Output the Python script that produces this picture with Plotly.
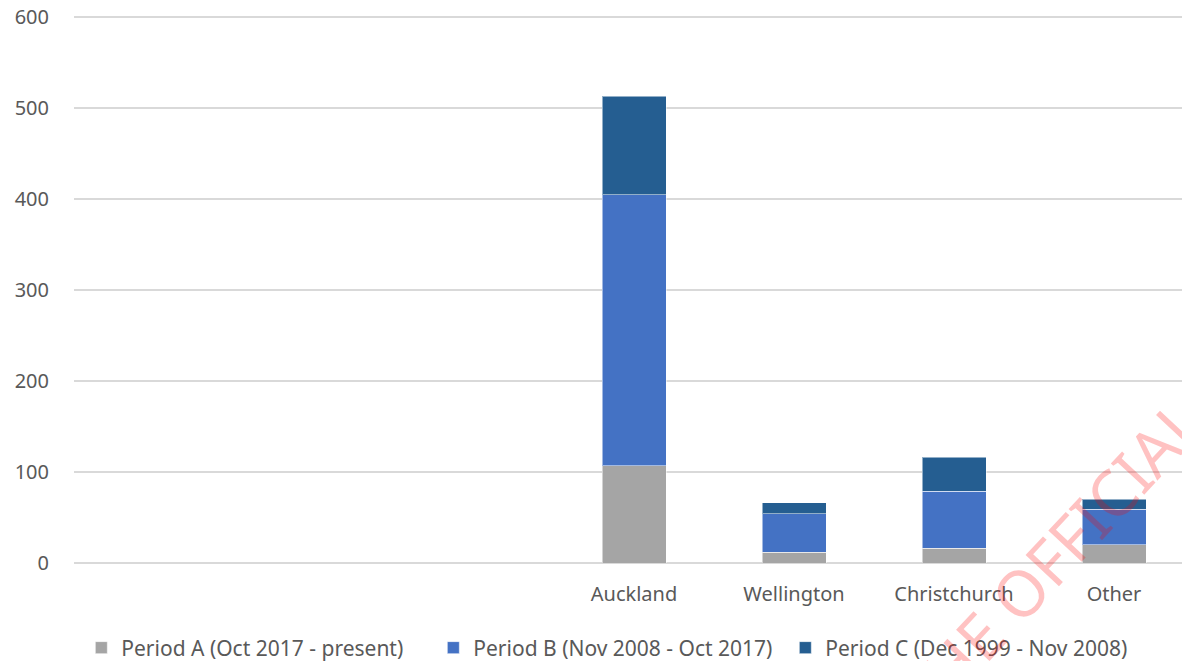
import plotly.graph_objects as go

categories = ["", " ", "  ", "Auckland", "Wellington", "Christchurch", "Other"]
period_a = [None, None, None, 107, 12, 16, 20]
period_b = [None, None, None, 298, 42, 63, 39]
period_c = [None, None, None, 108, 12, 37, 11]
series_names = [
    "Period A (Oct 2017 - present)",
    "Period B (Nov 2008 - Oct 2017)",
    "Period C (Dec 1999 - Nov 2008)",
]
series_colors = ["#a5a5a5", "#4472c4", "#255e91"]
y_ticks = [0, 100, 200, 300, 400, 500, 600]

FONT = "Noto Sans"
GREY = "#595959"

fig = go.Figure()
for name, vals, col in zip(series_names, [period_a, period_b, period_c], series_colors):
    fig.add_trace(go.Bar(
        x=categories, y=vals, name=name,
        marker=dict(color=col, line=dict(color="rgba(255,255,255,0.5)", width=1)),
    ))

fig.update_layout(
    barmode="stack",
    bargap=0.6,
    width=1182, height=661,
    margin=dict(l=74, r=0, t=16, b=98, autoexpand=False),
    paper_bgcolor="white",
    plot_bgcolor="white",
    font=dict(family=FONT, size=20, color=GREY),
    showlegend=True,
    legend=dict(
        orientation="h", xref="container", yref="container",
        x=0.5155, xanchor="center", y=0.0197, yanchor="middle",
        font=dict(family=FONT, size=21, color=GREY),
        traceorder="normal", itemclick=False,
        entrywidth=307, entrywidthmode="pixels",
    ),
    xaxis=dict(
        type="category", categoryorder="array", categoryarray=categories,
        range=[-0.5, 6.425], showgrid=False, showline=False, zeroline=False,
        ticks="", ticklabelstandoff=17, automargin=False,
        tickfont=dict(family=FONT, size=20, color=GREY),
    ),
    yaxis=dict(
        range=[0, 601.2], tickvals=y_ticks, showgrid=True,
        gridcolor="#d9d9d9", gridwidth=1.5, zeroline=True,
        zerolinecolor="#d9d9d9", zerolinewidth=1.5, showline=False,
        ticks="", ticklabelstandoff=24, automargin=False,
        tickfont=dict(family=FONT, size=20, color=GREY),
    ),
)

fig.add_annotation(
    text="THE OFFICIAL", xref="paper", yref="paper",
    x=0.881, y=0.0073, xanchor="center", yanchor="middle",
    textangle=-47, showarrow=False,
    font=dict(family=FONT, size=64, color="rgba(255,0,0,0.24)"),
)

fig.write_html(
    "out.html",
    config={"displayModeBar": False},
    post_script="document.body.style.margin='0';document.body.style.overflow='hidden';",
)
